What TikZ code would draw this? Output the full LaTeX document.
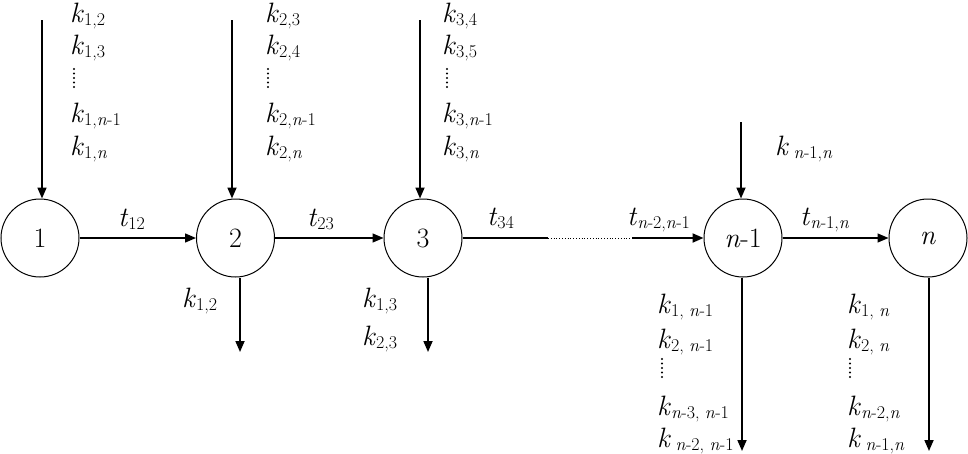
\documentclass[tikz,border=0pt]{standalone}
\usetikzlibrary{arrows.meta}
\newcommand\sbs[1]{\raisebox{-3pt}{\fontsize{18}{18}\selectfont #1}}
\newcommand\kk[1]{\textit{k}\sbs{#1}}
\newcommand\tl[1]{\textit{t}\sbs{#1}}
\newcommand\nn{\textit{n}}
\begin{document}
\begin{tikzpicture}[x=1pt,y=-1pt,font=\fontsize{28}{30}\selectfont,
  circ/.style={circle,draw,line width=1pt,minimum size=78pt,inner sep=0pt},
  lbl/.style={anchor=base west,inner sep=0pt},
  vdts/.pic={\foreach \i in {0,...,4} \fill (0,-9+4.5*\i) circle (1.1);},
  arr/.style={line width=1.7pt,-{Triangle[length=11pt,width=9pt]}},
  harr/.style={line width=1.4pt,-{Triangle[length=11pt,width=9pt]}},
  hl/.style={line width=1.4pt}]
\useasboundingbox (0,0) rectangle (968,453);
% nodes
\node[circ] (n1) at (40,238) {1};
\node[circ] (n2) at (235.5,238) {2};
\node[circ] (n3) at (423,238) {3};
\node[circ] (nm) at (743,238) {\nn-1};
\node[circ] (nn) at (928,238) {\nn};
% incoming arrows
\coordinate (a1) at (42,20);
\coordinate (a2) at (232,20);
\coordinate (a3) at (420,20);
\coordinate (am) at (741,122);
\draw[arr] (a1) -- (a1 |- n1.north);
\draw[arr] (a2) -- (a2 |- n2.north);
\draw[arr] (a3) -- (a3 |- n3.north);
\draw[arr] (am) -- (am |- nm.north);
% outgoing arrows
\coordinate (b2) at (240,352);
\coordinate (b3) at (428,352);
\coordinate (bm) at (742,451);
\coordinate (bn) at (929,451);
\draw[arr] (b2 |- n2.south) -- (b2);
\draw[arr] (b3 |- n3.south) -- (b3);
\draw[arr] (bm |- nm.south) -- (bm);
\draw[arr] (bn |- nn.south) -- (bn);
% horizontal
\draw[harr] (n1) -- (n2);
\draw[harr] (n2) -- (n3);
\coordinate (c1) at (548,238);
\coordinate (c2) at (632,238);
\draw[hl] (n3) -- (c1);
\draw[line width=0.8pt,dotted] (c1) -- (c2);
\draw[harr,line width=2pt] (c2) -- (nm);
\draw[harr] (nm) -- (nn);
% t labels
\node[lbl] (t12) at (118,226) {\tl{12}};
\node[lbl] (t23) at (307,226) {\tl{23}};
\node[lbl] (t34) at (487,225) {\tl{34}};
\node[lbl] (tnm) at (627,225) {\tl{\nn-2,\nn-1}};
\node[lbl] (tnn) at (800,225) {\tl{\nn-1,\nn}};
% top labels node 1
\node[lbl] (u11) at (70,22) {\kk{1,2}};
\node[lbl] (u12) at (70,54) {\kk{1,3}};
\pic at (74,78) {vdts};
\node[lbl] (u14) at (70,122) {\kk{1,\nn-1}};
\node[lbl] (u15) at (70,155) {\kk{1,\nn}};
% top labels node 2
\node[lbl] (u21) at (265,22) {\kk{2,3}};
\node[lbl] (u22) at (265,54) {\kk{2,4}};
\pic at (268,78) {vdts};
\node[lbl] (u24) at (265,122) {\kk{2,\nn-1}};
\node[lbl] (u25) at (265,155) {\kk{2,\nn}};
% top labels node 3
\node[lbl] (u31) at (442,22) {\kk{3,4}};
\node[lbl] (u32) at (442,54) {\kk{3,5}};
\pic at (447,78) {vdts};
\node[lbl] (u34) at (442,122) {\kk{3,\nn-1}};
\node[lbl] (u35) at (442,155) {\kk{3,\nn}};
% top label n-1
\node[lbl] (um) at (775,155) {\textit{k}\,\sbs{\nn-1,\nn}};
% bottom labels
\node[lbl] (d21) at (182,307) {\kk{1,2}};
\node[lbl] (d31) at (362,307) {\kk{1,3}};
\node[lbl] (d32) at (362,345) {\kk{2,3}};
\node[lbl] (dm1) at (657,313) {\kk{1, \nn-1}};
\node[lbl] (dm2) at (657,348) {\kk{2, \nn-1}};
\pic at (662,368) {vdts};
\node[lbl] (dm4) at (657,415) {\kk{\nn-3, \nn-1}};
\node[lbl] (dm5) at (657,447) {\textit{k}\,\sbs{\nn-2, \nn-1}};
\node[lbl] (dn1) at (847,313) {\kk{1, \nn}};
\node[lbl] (dn2) at (847,348) {\kk{2, \nn}};
\pic at (850,368) {vdts};
\node[lbl] (dn4) at (847,415) {\kk{\nn-2,\nn}};
\node[lbl] (dn5) at (847,447) {\textit{k}\,\sbs{\nn-1,\nn}};
\end{tikzpicture}
\end{document}
